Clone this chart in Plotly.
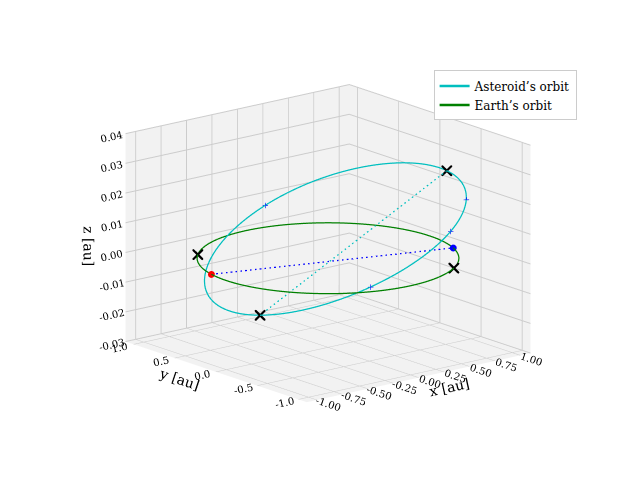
import numpy as np
import plotly.graph_objects as go

# orbit shapes (degrees along the orbit, radius in au, z in au)
theta_deg = list(range(0, 361, 3))
earth_radius = 1.0
ast_radius = 1.0
ast_ecc = 0.06
ast_z_amp = 0.017
ast_z_off = 0.006
ast_peak_deg = -5

# marked positions (angles in degrees)
earth_red_deg = 168
earth_blue_deg = -22
earth_cross_deg = [135, -55]
ast_cross_deg = [-8, 198]
ast_plus_deg = [80, -40, -65, 250]

x_ticks = [-1.0, -0.75, -0.5, -0.25, 0.0, 0.25, 0.5, 0.75, 1.0]
y_ticks = [-1.0, -0.5, 0.0, 0.5, 1.0]
z_ticks = [-0.03, -0.02, -0.01, 0.0, 0.01, 0.02, 0.03, 0.04]


def earth(deg):
    t = np.radians(np.asarray(deg, dtype=float))
    return earth_radius * np.cos(t), earth_radius * np.sin(t), 0 * t


def asteroid(deg):
    t = np.radians(np.asarray(deg, dtype=float))
    r = ast_radius * (1 - ast_ecc * np.cos(t - np.radians(160)))
    z = ast_z_off + ast_z_amp * np.cos(t - np.radians(ast_peak_deg))
    return r * np.cos(t), r * np.sin(t), z


fig = go.Figure()

ax, ay, az = asteroid(theta_deg)
fig.add_trace(go.Scatter3d(x=ax, y=ay, z=az, mode="lines", name="Asteroid’s orbit",
                           line=dict(color="#00bfbf", width=2.5)))
ex, ey, ez = earth(theta_deg)
fig.add_trace(go.Scatter3d(x=ex, y=ey, z=ez, mode="lines", name="Earth’s orbit",
                           line=dict(color="green", width=2.5)))

# dashed chords
cx, cy, cz = asteroid(ast_cross_deg)
fig.add_trace(go.Scatter3d(x=cx, y=cy, z=cz, mode="lines", showlegend=False,
                           line=dict(color="#00bfbf", width=2.5, dash="dash")))
rx, ry, rz = earth([earth_red_deg])
bx, by, bz = earth([earth_blue_deg])
fig.add_trace(go.Scatter3d(x=[rx[0], bx[0]], y=[ry[0], by[0]], z=[rz[0], bz[0]], mode="lines",
                           showlegend=False, line=dict(color="blue", width=2.5, dash="dash")))

# markers
px, py, pz = asteroid(ast_plus_deg)
fig.add_trace(go.Scatter3d(x=px, y=py, z=pz, mode="markers", showlegend=False,
                           marker=dict(symbol="cross", size=3, color="blue")))
kx, ky, kz = earth(earth_cross_deg)
fig.add_trace(go.Scatter3d(x=list(kx) + list(cx), y=list(ky) + list(cy), z=list(kz) + list(cz),
                           mode="markers", showlegend=False,
                           marker=dict(symbol="x", size=2.5, color="black")))
fig.add_trace(go.Scatter3d(x=rx, y=ry, z=rz, mode="markers", showlegend=False,
                           marker=dict(symbol="circle", size=4, color="red")))
fig.add_trace(go.Scatter3d(x=bx, y=by, z=bz, mode="markers", showlegend=False,
                           marker=dict(symbol="circle", size=4, color="blue")))

axis_style = dict(showbackground=True, backgroundcolor="#f2f2f2", gridcolor="#cccccc",
                  zeroline=False, showspikes=False, tickfont=dict(size=11),
                  title_font=dict(size=17))

fig.update_layout(
    width=640, height=480,
    font=dict(family="DejaVu Serif", color="black"),
    paper_bgcolor="white",
    margin=dict(l=0, r=0, t=0, b=0),
    showlegend=True,
    legend=dict(x=0.665, y=0.87, bgcolor="white", bordercolor="#cccccc", borderwidth=1,
                font=dict(size=12)),
    scene=dict(
        domain=dict(x=[0.0, 1.0], y=[0.0, 1.0]),
        aspectmode="manual",
        aspectratio=dict(x=1.2, y=1.2, z=0.9),
        xaxis=dict(axis_style, title="x [au]", range=[-1.1, 1.1], tickvals=x_ticks,
                   ticktext=[f"{v:.2f}" for v in x_ticks]),
        yaxis=dict(axis_style, title="y [au]", range=[-1.1, 1.1], tickvals=y_ticks,
                   ticktext=[f"{v:.1f}" for v in y_ticks]),
        zaxis=dict(axis_style, title="z [au]", range=[-0.03, 0.04], tickvals=z_ticks,
                   ticktext=[f"{v:.2f}" for v in z_ticks]),
        camera=dict(eye=dict(x=-0.85, y=-1.05, z=0.36), center=dict(x=0, y=0, z=-0.02),
                    projection=dict(type="orthographic")),
    ),
)

fig.write_html("out.html")
